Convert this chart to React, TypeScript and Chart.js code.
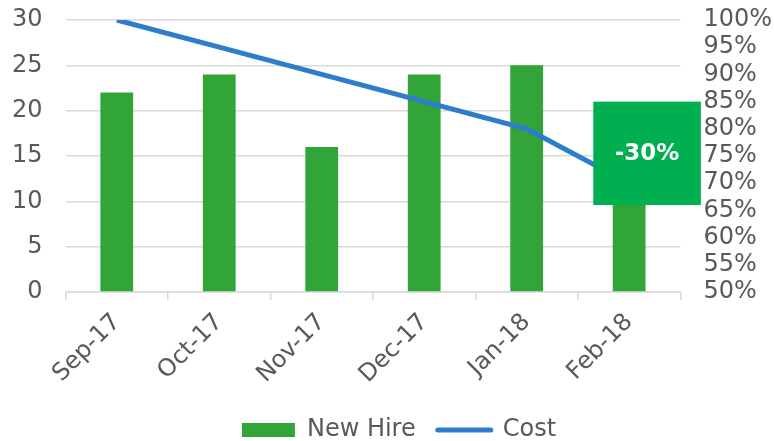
import React, { useEffect, useRef } from "react";
import { Chart, registerables } from "chart.js";

Chart.register(...registerables);

const categories = ["Sep-17", "Oct-17", "Nov-17", "Dec-17", "Jan-18", "Feb-18"];
const newHire = [22, 24, 16, 24, 25, 20];
const costPct = [100, 95, 90, 85, 80, 70];
const leftTicks = { min: 0, max: 30, step: 5 };
const rightTicks = { min: 50, max: 100, step: 5 };
const calloutText = "-30%";
const calloutTopPct = 85;
const calloutBottomPct = 66;

const FONT = "DejaVu Sans, Verdana, sans-serif";
const TICK_COLOR = "#595959";
const BAR_COLOR = "#31A538";
const LINE_COLOR = "#2E7DCB";
const BOX_COLOR = "#00B050";
const GRID_COLOR = "#d9d9d9";
const Y_PAD = 23;
const LEGEND_SHIFT = 7;

const calloutPlugin = {
  id: "callout",
  afterLayout(chart: any) {
    if (chart.legend) {
      chart.legend.left += LEGEND_SHIFT;
      chart.legend.right += LEGEND_SHIFT;
    }
  },
  afterDatasetsDraw(chart: any) {
    const { ctx, scales } = chart;
    const x = scales.x;
    const yR = scales.yR;
    const idx = categories.length - 1;
    const xc = x.getPixelForValue(idx);
    const cw = x.getPixelForValue(1) - x.getPixelForValue(0);
    const left = xc - 0.35 * cw;
    const right = xc + 0.70 * cw;
    const top = yR.getPixelForValue(calloutTopPct);
    const bottom = yR.getPixelForValue(calloutBottomPct);
    ctx.save();
    ctx.fillStyle = BOX_COLOR;
    ctx.fillRect(left, top, right - left, bottom - top);
    ctx.fillStyle = "#ffffff";
    ctx.font = `bold 23px ${FONT}`;
    ctx.textAlign = "center";
    ctx.textBaseline = "middle";
    ctx.fillText(calloutText, (left + right) / 2, (top + bottom) / 2 + 1);
    ctx.restore();
  },
};

const fitY = (scale: any) => {
  scale.paddingTop = 0;
  scale.paddingBottom = 0;
  scale.width = scale.width - Y_PAD;
};

export default function App() {
  const ref = useRef<HTMLCanvasElement>(null);
  useEffect(() => {
    document.body.style.margin = "0";
    const chart = new Chart(ref.current!, {
      type: "bar",
      data: {
        labels: categories,
        datasets: [
          {
            type: "line",
            label: "Cost",
            data: costPct,
            yAxisID: "yR",
            borderColor: LINE_COLOR,
            backgroundColor: LINE_COLOR,
            borderWidth: 5,
            pointRadius: 0,
            tension: 0,
            order: 0,
          } as any,
          {
            type: "bar",
            label: "New Hire",
            data: newHire,
            yAxisID: "y",
            backgroundColor: BAR_COLOR,
            barPercentage: 0.32,
            categoryPercentage: 1,
            order: 1,
          },
        ],
      },
      options: {
        animation: false,
        responsive: false,
        maintainAspectRatio: false,
        layout: { padding: { top: 20, left: 12, right: 2, bottom: -11 } },
        plugins: {
          tooltip: { enabled: false },
          legend: {
            position: "bottom",
            labels: {
              color: TICK_COLOR,
              font: { family: FONT, size: 24 },
              usePointStyle: true,
              pointStyleWidth: 53,
              boxHeight: 14,
              padding: 22,
              generateLabels: (ch: any) => {
                const order = [1, 0];
                return order.map((i) => {
                  const ds = ch.data.datasets[i];
                  const isLine = ds.type === "line";
                  return {
                    text: ds.label,
                    fillStyle: isLine ? LINE_COLOR : BAR_COLOR,
                    strokeStyle: isLine ? LINE_COLOR : BAR_COLOR,
                    lineWidth: isLine ? 5 : 0,
                    pointStyle: isLine ? "line" : "rect",
                    fontColor: TICK_COLOR,
                    hidden: false,
                    datasetIndex: i,
                    lineCap: "round",
                  };
                });
              },
            },
          },
        },
        scales: {
          x: {
            offset: true,
            afterFit: (scale: any) => {
              scale.paddingLeft = 0;
              scale.paddingRight = 0;
              scale.height = scale.height - 1;
            },
            grid: {
              offset: true,
              drawOnChartArea: false,
              drawTicks: true,
              tickLength: 8,
              color: GRID_COLOR,
              lineWidth: 1.5,
            },
            border: { display: true, color: GRID_COLOR, width: 1.5 },
            ticks: {
              color: TICK_COLOR,
              font: { family: FONT, size: 24 },
              minRotation: 45,
              maxRotation: 45,
              padding: 8,
              autoSkip: false,
            },
          },
          y: {
            position: "left",
            min: leftTicks.min,
            max: leftTicks.max,
            afterFit: fitY,
            grid: { color: GRID_COLOR, lineWidth: 1.5, drawTicks: false },
            border: { display: false },
            ticks: {
              stepSize: leftTicks.step,
              color: TICK_COLOR,
              font: { family: FONT, size: 24 },
              padding: Y_PAD,
              autoSkip: false,
            },
          },
          yR: {
            position: "right",
            min: rightTicks.min,
            max: rightTicks.max,
            afterFit: fitY,
            grid: { display: false, drawTicks: false },
            border: { display: false },
            ticks: {
              stepSize: rightTicks.step,
              color: TICK_COLOR,
              font: { family: FONT, size: 24 },
              padding: Y_PAD,
              autoSkip: false,
              callback: (v: any) => `${v}%`,
            },
          },
        },
      },
      plugins: [calloutPlugin],
    });
    return () => chart.destroy();
  }, []);
  return (
    <div style={{ position: "absolute", left: 0, top: 0, width: 774, height: 441 }}>
      <canvas ref={ref} width={774} height={441} style={{ width: 774, height: 441 }} />
    </div>
  );
}
